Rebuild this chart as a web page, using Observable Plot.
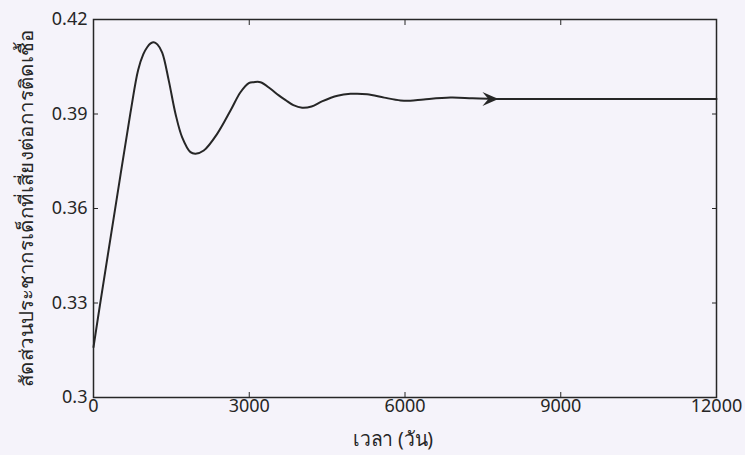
<!DOCTYPE html>
<html>
<head>
<meta charset="utf-8">
<script src="https://cdn.jsdelivr.net/npm/d3@7"></script>
<script src="https://cdn.jsdelivr.net/npm/@observablehq/plot@0.6"></script>
<style>
  html, body { margin: 0; padding: 0; background: #f5f3fa; }
</style>
</head>
<body>
<div id="chart"></div>
<script>
// Time (days) and fraction of susceptible children
const days = [0, 133, 419, 713, 860, 960, 1034, 1100, 1161, 1230, 1323, 1450, 1579, 1708, 1868, 1965,
  2124, 2382, 2639, 2831, 2991, 3087, 3216, 3409, 3569, 3700, 3850, 4019, 4200, 4400, 4700, 4950,
  5270, 5600, 5913, 6100, 6362, 6876, 7300, 7780, 9000, 12000];
const fraction = [0.316, 0.3303, 0.3601, 0.3905, 0.4040, 0.4090, 0.4112, 0.4124, 0.4128, 0.4121, 0.4095, 0.4006, 0.3901, 0.3826, 0.3779, 0.3774,
  0.3784, 0.3837, 0.3911, 0.3969, 0.3998, 0.4001, 0.4001, 0.3980, 0.3959, 0.3944, 0.3928, 0.3920, 0.3924, 0.3940, 0.3958, 0.3964,
  0.3963, 0.3952, 0.3943, 0.3942, 0.3946, 0.3952, 0.3950, 0.3948, 0.3948, 0.3948];
// Arrow marking direction of the trajectory
const arrowDay = [7780];
const arrowValue = [0.3948];

const xTicks = [0, 3000, 6000, 9000, 12000];
const yTicks = [0.3, 0.33, 0.36, 0.39, 0.42];
const xLabel = "เวลา (วัน)";
const yLabel = "สัดส่วนประชากรเด็กที่เสี่ยงต่อการติดเชื้อ";

const curveData = days.map((t, i) => ({t, v: fraction[i]}));
const arrowData = arrowDay.map((t, i) => ({t, v: arrowValue[i]}));

const stealth = {
  draw(ctx) {
    ctx.moveTo(1, 0);
    ctx.lineTo(-15, -7);
    ctx.lineTo(-9, 0);
    ctx.lineTo(-15, 7);
    ctx.closePath();
  }
};

const ink = "#262626";
const font = "'Noto Sans', 'DejaVu Sans', sans-serif";

const chart = Plot.plot({
  width: 745,
  height: 455,
  marginLeft: 93,
  marginRight: 29,
  marginTop: 19,
  marginBottom: 58,
  style: {background: "#f5f3fa", fontFamily: font, fontSize: "18px", color: ink},
  x: {domain: [0, 12000]},
  y: {domain: [0.3, 0.42]},
  marks: [
    Plot.frame({stroke: ink, strokeWidth: 1.5}),
    Plot.axisX({anchor: "bottom", ticks: xTicks, tickSize: -5, tickPadding: 7, tickFormat: d => String(d), label: null, fontSize: 18, stroke: ink, fill: ink}),
    Plot.axisX({anchor: "top", ticks: xTicks, tickSize: -5, tickFormat: () => "", label: null, stroke: ink}),
    Plot.axisY({anchor: "left", ticks: yTicks, tickSize: -5, tickPadding: 11, tickFormat: d => String(d), label: null, fontSize: 18, stroke: ink, fill: ink}),
    Plot.axisY({anchor: "right", ticks: yTicks, tickSize: -5, tickFormat: () => "", label: null, stroke: ink}),
    Plot.line(curveData, {x: "t", y: "v", stroke: ink, strokeWidth: 2, curve: "catmull-rom"}),
    Plot.dot(arrowData, {x: "t", y: "v", symbol: stealth, fill: ink, stroke: "none", r: 5}),
    Plot.text([xLabel], {frameAnchor: "bottom", textAnchor: "middle", dx: -12, dy: 42, fontSize: 20, fill: ink, lineAnchor: "middle"}),
    Plot.text([yLabel], {frameAnchor: "left", textAnchor: "middle", dx: -67, rotate: -90, fontSize: 19, fill: ink, lineAnchor: "middle"})
  ]
});
document.getElementById("chart").appendChild(chart);
// condense the axis titles along their reading direction to the lengths they have in the reference
function condense(label, len) {
  chart.querySelectorAll("text").forEach(el => {
    if (el.textContent.trim() === label.trim()) {
      let natural = 0;
      try { natural = el.getComputedTextLength(); } catch (e) { natural = 0; }
      if (!natural) { try { natural = el.getBBox().width; } catch (e) { natural = 0; } }
      if (natural > 0) {
        const sx = len / natural;
        const tr = el.getAttribute("transform") || "";
        el.setAttribute("transform", (tr + " scale(" + sx.toFixed(4) + ",1)").trim());
      }
    }
  });
}
condense(yLabel, 353);
condense(xLabel, 80);
</script>
</body>
</html>
